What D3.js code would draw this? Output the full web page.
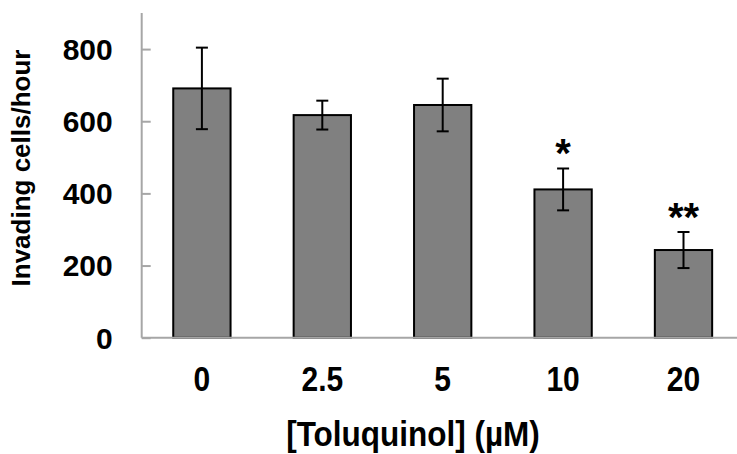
<!DOCTYPE html>
<html>
<head>
<meta charset="utf-8">
<script src="https://cdn.jsdelivr.net/npm/d3@7"></script>
<style>
  html, body { margin: 0; padding: 0; background: #fff; }
  svg { display: block; }
  text { font-family: "Liberation Sans", Arial, sans-serif; font-weight: bold; fill: #000; }
</style>
</head>
<body>
<svg id="chart" width="737" height="454"></svg>
<script>
const categories = ["0", "2.5", "5", "10", "20"];
const values = [691, 617, 645, 411, 243];
const errors = [113, 40, 73, 58, 50];
const significance = ["", "", "", "*", "**"];
const yTicks = [0, 200, 400, 600, 800];
const yTitle = "Invading cells/hour";
const xTitle = "[Toluquinol] (\u00B5M)";

const svg = d3.select("#chart");
const x = d3.scaleBand().domain(categories).range([141.7, 743.7]).paddingInner(0.524).paddingOuter(0.262);
const y = d3.scaleLinear().domain([0, 900]).range([337.7, 13]);
const axisColor = "#a6a6a6";

// bars
svg.selectAll("rect.bar").data(values).enter().append("rect")
  .attr("class", "bar")
  .attr("x", (d, i) => x(categories[i]))
  .attr("y", d => y(d))
  .attr("width", x.bandwidth())
  .attr("height", d => y(0) - y(d))
  .attr("fill", "#808080")
  .attr("stroke", "#000")
  .attr("stroke-width", 2);

// axes
const yAxis = d3.axisRight(y).tickValues(yTicks).tickSize(9).tickFormat("");
const gy = svg.append("g").attr("transform", `translate(${x.range()[0]},0)`).call(yAxis);
gy.select(".domain").attr("d", `M0,${y(900)}V${y(0)}`).attr("stroke", axisColor).attr("stroke-width", 2);
gy.selectAll(".tick line").attr("stroke", axisColor).attr("stroke-width", 2);

svg.append("line")
  .attr("x1", x.range()[0]).attr("x2", x.range()[1])
  .attr("y1", y(0)).attr("y2", y(0))
  .attr("stroke", axisColor).attr("stroke-width", 2);

// y tick labels
svg.selectAll("text.ylab").data(yTicks).enter().append("text")
  .attr("class", "ylab")
  .attr("x", 112.7)
  .attr("y", d => y(d))
  .attr("dy", "0.36em")
  .attr("text-anchor", "end")
  .attr("font-size", 30)
  .text(d => d);

// error bars
const eg = svg.append("g").attr("stroke", "#000").attr("stroke-width", 2);
values.forEach((v, i) => {
  const cx = x(categories[i]) + x.bandwidth() / 2;
  eg.append("line").attr("x1", cx).attr("x2", cx).attr("y1", y(v + errors[i])).attr("y2", y(v - errors[i]));
  eg.append("line").attr("x1", cx - 6).attr("x2", cx + 6).attr("y1", y(v + errors[i])).attr("y2", y(v + errors[i]));
  eg.append("line").attr("x1", cx - 6).attr("x2", cx + 6).attr("y1", y(v - errors[i])).attr("y2", y(v - errors[i]));
});

// significance stars
significance.forEach((s, i) => {
  if (!s) return;
  const cx = x(categories[i]) + x.bandwidth() / 2;
  svg.append("text")
    .attr("x", cx)
    .attr("y", y(values[i] + errors[i]) - 1)
    .attr("text-anchor", "middle")
    .attr("font-size", 40)
    .text(s);
});

// x tick labels
categories.forEach(c => {
  svg.append("text")
    .attr("transform", `translate(${x(c) + x.bandwidth() / 2},390.5) scale(1,1.18)`)
    .attr("text-anchor", "middle")
    .attr("font-size", 30)
    .text(c);
});

// axis titles
svg.append("text")
  .attr("transform", `translate(${(283 + 543) / 2},446) scale(1,1.13)`)
  .attr("text-anchor", "middle")
  .attr("font-size", 31.5)
  .text(xTitle);

svg.append("text")
  .attr("transform", "translate(30,168) rotate(-90)")
  .attr("text-anchor", "middle")
  .attr("font-size", 26)
  .text(yTitle);
</script>
</body>
</html>
